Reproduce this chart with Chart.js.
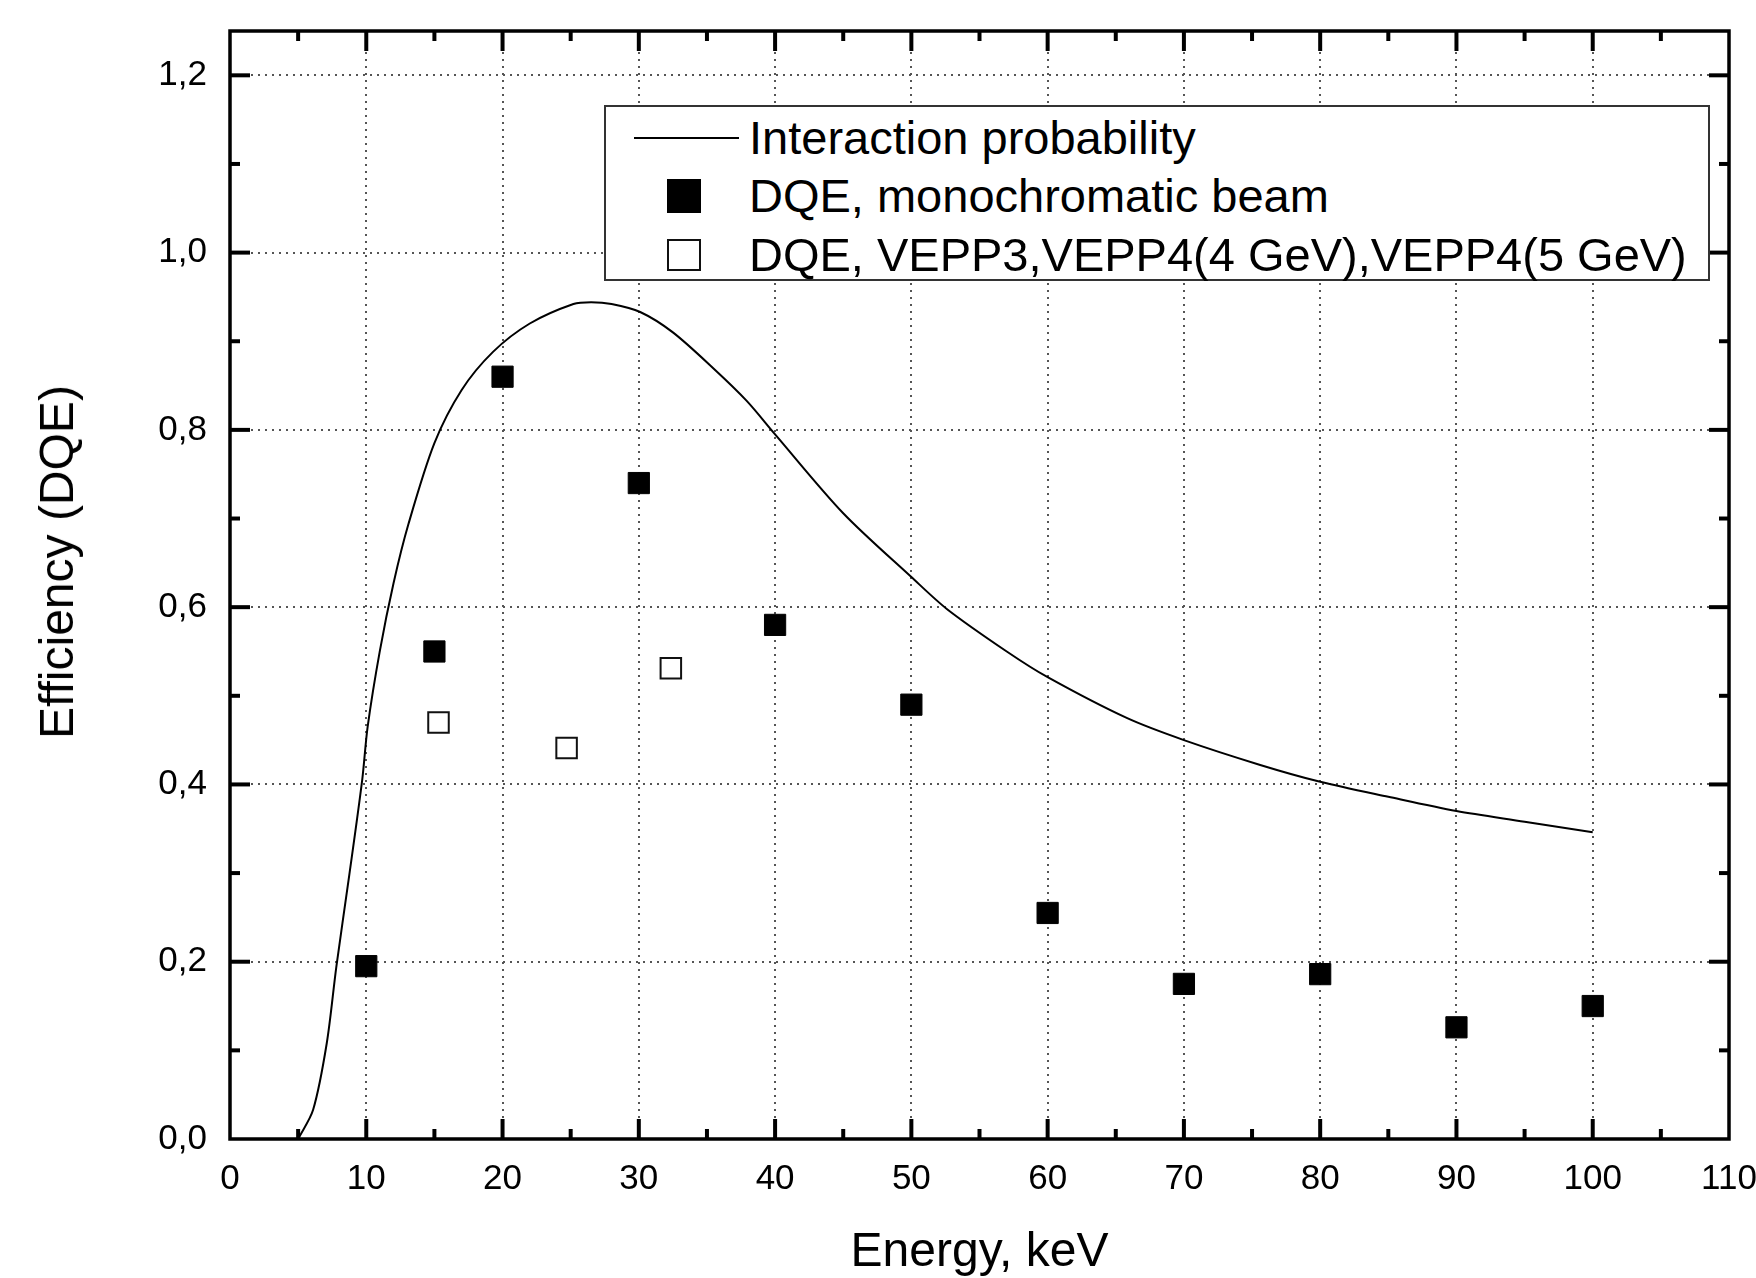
<!DOCTYPE html>
<html>
<head>
<meta charset="utf-8">
<script src="https://cdn.jsdelivr.net/npm/chart.js@4/dist/chart.umd.min.js"></script>
<style>
  html, body { margin: 0; padding: 0; background: #fff; overflow: hidden; }
  #wrap { position: relative; width: 1756px; height: 1278px; font-family: Arial, "Liberation Sans", sans-serif; }
  #legend { position: absolute; left: 604px; top: 105px; width: 1106px; height: 176px; box-sizing: border-box; border: 2px solid #333; background: #fff; }
  .lg-text { position: absolute; left: 749px; height: 58px; line-height: 58px; font-size: 47px; color: #000; white-space: nowrap; }
  .lg-line { position: absolute; left: 634px; top: 137px; width: 105px; height: 2px; background: #000; }
  .lg-fill { position: absolute; left: 667px; top: 179px; width: 34px; height: 34px; background: #000; }
  .lg-open { position: absolute; left: 667px; top: 239px; width: 34px; height: 32px; box-sizing: border-box; border: 2px solid #111; background: #fff; }
  #ytitle { position: absolute; left: 57px; top: 562px; font-size: 48px; line-height: 48px; color: #000; white-space: nowrap; transform: translate(-50%, -50%) rotate(-90deg); }
</style>
</head>
<body>
<div id="wrap">
  <canvas id="c" width="1756" height="1278"></canvas>
  <div id="ytitle"></div>
  <div id="legend"></div>
  <div class="lg-line"></div>
  <div class="lg-text" id="lg1" style="top:109px"></div>
  <div class="lg-fill"></div>
  <div class="lg-text" id="lg2" style="top:167px"></div>
  <div class="lg-open"></div>
  <div class="lg-text" id="lg3" style="top:226px"></div>
</div>
<script>
// Interaction probability curve
const curveE = [5, 6.1, 7.1, 7.8, 8.7, 9.7, 10.1, 11, 12, 13.1, 15, 17, 19.3, 22, 25.2, 26.5, 28, 30.1, 32.5, 35.5, 37.9, 40, 45, 50, 52.6, 57, 60, 65.8, 70, 75.6, 80, 85, 90, 95, 100];
const curveP = [0, 0.033, 0.108, 0.194, 0.292, 0.405, 0.465, 0.551, 0.627, 0.694, 0.785, 0.845, 0.888, 0.92, 0.942, 0.944, 0.942, 0.933, 0.91, 0.869, 0.833, 0.795, 0.706, 0.634, 0.598, 0.55, 0.521, 0.475, 0.45, 0.422, 0.403, 0.386, 0.37, 0.358, 0.346];

// DQE, monochromatic beam
const monoE = [10, 15, 20, 30, 40, 50, 60, 70, 80, 90, 100];
const monoDQE = [0.195, 0.55, 0.86, 0.74, 0.58, 0.49, 0.255, 0.175, 0.186, 0.126, 0.15];

// DQE, VEPP3, VEPP4(4 GeV), VEPP4(5 GeV)
const veppE = [15.3, 24.7, 32.35];
const veppDQE = [0.47, 0.441, 0.531];

const seriesLabels = ['Interaction probability', 'DQE, monochromatic beam', 'DQE, VEPP3,VEPP4(4 GeV),VEPP4(5 GeV)'];

const xTicks = [0, 10, 20, 30, 40, 50, 60, 70, 80, 90, 100, 110];
const xTickLabels = ['0', '10', '20', '30', '40', '50', '60', '70', '80', '90', '100', '110'];
const xMinor = [5, 15, 25, 35, 45, 55, 65, 75, 85, 95, 105];
const yTicks = [0, 0.2, 0.4, 0.6, 0.8, 1.0, 1.2];
const yTickLabels = ['0,0', '0,2', '0,4', '0,6', '0,8', '1,0', '1,2'];
const yMinor = [0.1, 0.3, 0.5, 0.7, 0.9, 1.1];

const xTitle = 'Energy, keV';
const yTitle = 'Efficiency (DQE)';

document.getElementById('lg1').textContent = seriesLabels[0];
document.getElementById('lg2').textContent = seriesLabels[1];
document.getElementById('lg3').textContent = seriesLabels[2];
document.getElementById('ytitle').textContent = yTitle;

const pts = (xs, ys) => xs.map((x, i) => ({ x, y: ys[i] }));

// frame on all four sides + inward major/minor ticks
const frameTicks = {
  id: 'frameTicks',
  afterDatasetsDraw(chart) {
    const { ctx, chartArea: a, scales: { x, y } } = chart;
    const seg = (x1, y1, x2, y2) => { ctx.beginPath(); ctx.moveTo(x1, y1); ctx.lineTo(x2, y2); ctx.stroke(); };
    ctx.save();
    ctx.strokeStyle = '#000';
    ctx.lineWidth = 4;
    xTicks.slice(1, -1).forEach(v => { const p = x.getPixelForValue(v); seg(p, a.bottom, p, a.bottom - 20); seg(p, a.top, p, a.top + 20); });
    xMinor.forEach(v => { const p = x.getPixelForValue(v); seg(p, a.bottom, p, a.bottom - 10); seg(p, a.top, p, a.top + 10); });
    yTicks.slice(1).forEach(v => { const p = y.getPixelForValue(v); seg(a.left, p, a.left + 20, p); seg(a.right, p, a.right - 20, p); });
    yMinor.forEach(v => { const p = y.getPixelForValue(v); seg(a.left, p, a.left + 10, p); seg(a.right, p, a.right - 10, p); });
    ctx.lineWidth = 3.5;
    ctx.strokeRect(a.left, a.top, a.right - a.left, a.bottom - a.top);
    ctx.restore();
  }
};

Chart.defaults.font.family = 'Arial, "Liberation Sans", sans-serif';
Chart.defaults.color = '#000';

new Chart(document.getElementById('c'), {
  type: 'scatter',
  data: {
    datasets: [
      { label: seriesLabels[0], data: pts(curveE, curveP), showLine: true, borderColor: '#000', borderWidth: 2, pointRadius: 0, tension: 0.3, fill: false },
      { label: seriesLabels[1], data: pts(monoE, monoDQE), pointStyle: 'rect', pointRadius: 15, backgroundColor: '#000', borderColor: '#000', borderWidth: 1 },
      { label: seriesLabels[2], data: pts(veppE, veppDQE), pointStyle: 'rect', pointRadius: 14.5, backgroundColor: '#fff', borderColor: '#111', borderWidth: 2 }
    ]
  },
  options: {
    responsive: false,
    animation: false,
    layout: { padding: { top: 31, right: 27, left: 0, bottom: 0 } },
    plugins: { legend: { display: false }, tooltip: { enabled: false } },
    scales: {
      x: {
        type: 'linear', min: 0, max: 110,
        afterBuildTicks: s => { s.ticks = xTicks.map(v => ({ value: v })); },
        afterFit: s => { s.height = 139; s.paddingLeft = 0; s.paddingRight = 0; },
        ticks: { font: { size: 35 }, padding: 19, maxRotation: 0, autoSkip: false, callback: (v, i) => xTickLabels[i] },
        grid: { color: '#555', lineWidth: 2, drawTicks: false },
        border: { display: false, dash: [2, 5] },
        title: { display: true, text: xTitle, font: { size: 48, lineHeight: 1 }, padding: { top: 0, bottom: 1 } }
      },
      y: {
        type: 'linear', min: 0, max: 1.25,
        afterBuildTicks: s => { s.ticks = yTicks.map(v => ({ value: v })); },
        afterFit: s => { s.width = 230; s.paddingTop = 0; s.paddingBottom = 0; },
        ticks: { font: { size: 35 }, padding: 23, autoSkip: false, callback: (v, i) => yTickLabels[i] },
        grid: { color: '#555', lineWidth: 2, drawTicks: false },
        border: { display: false, dash: [2, 5] },
        title: { display: false }
      }
    }
  },
  plugins: [frameTicks]
});
</script>
</body>
</html>
